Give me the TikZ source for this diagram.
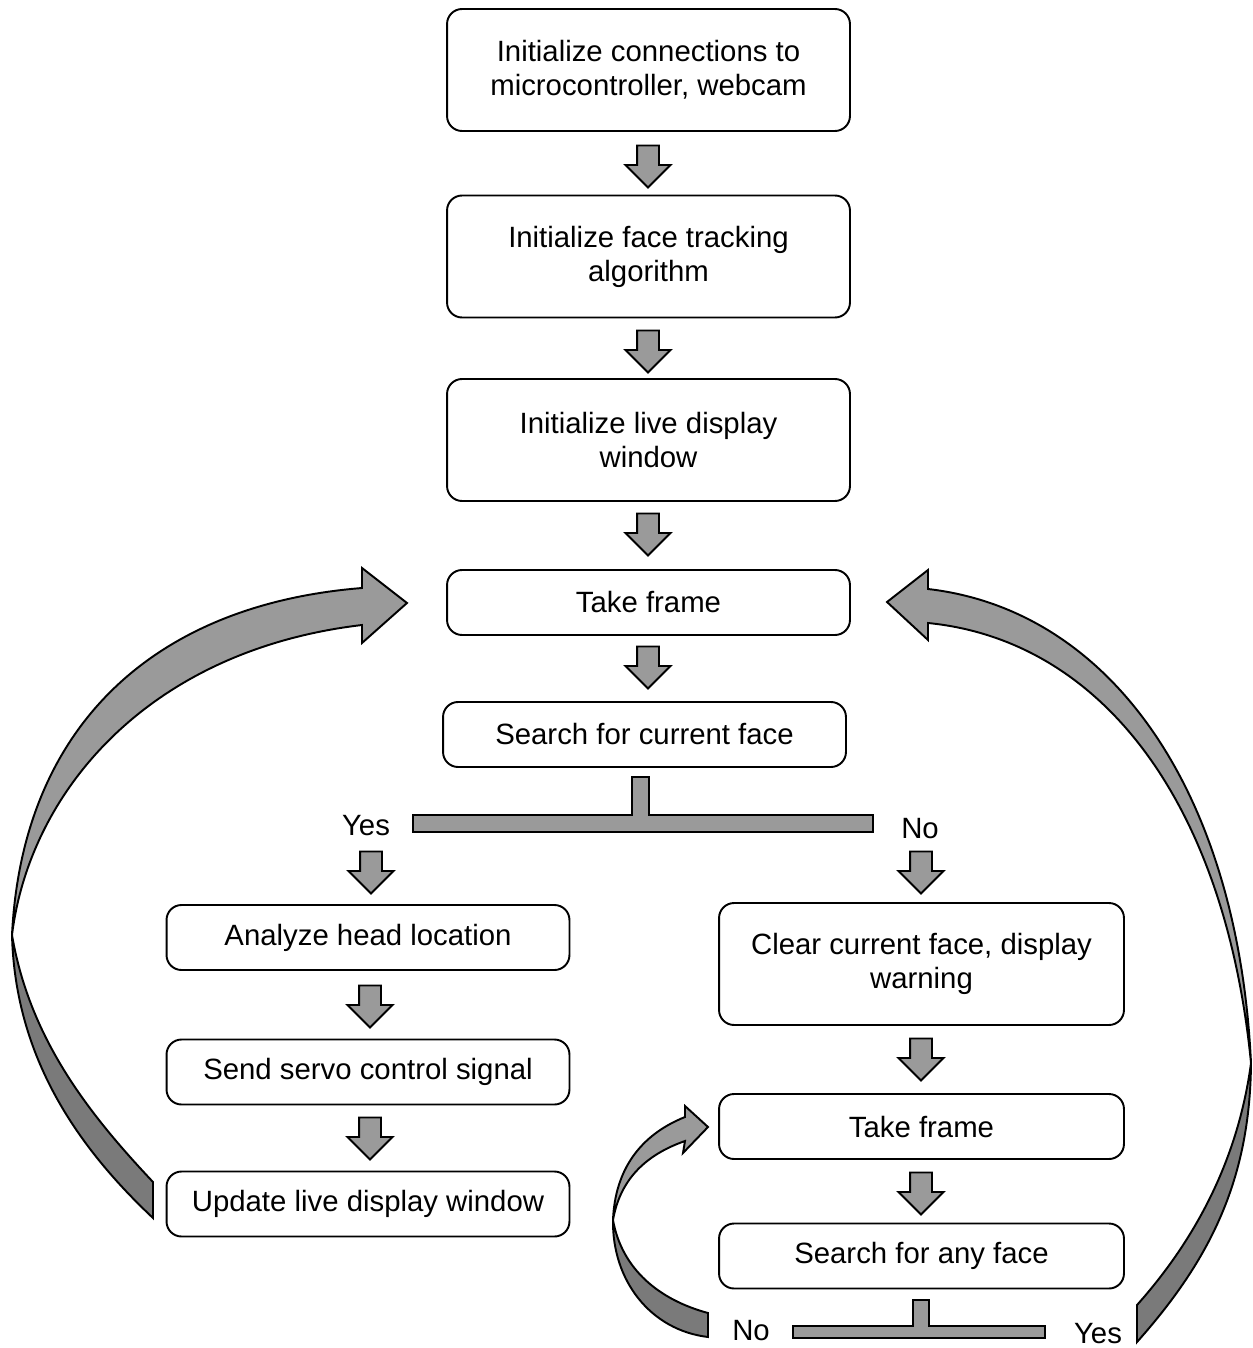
\documentclass[tikz,border=0pt]{standalone}
\usepackage{fontspec}
\setmainfont{Liberation Sans}
\usetikzlibrary{shapes.arrows,positioning}

\definecolor{fillgray}{HTML}{9A9A9A}
\definecolor{backgray}{HTML}{7A7A7A}

\begin{document}
\begin{tikzpicture}
    \tikzset{x=0.02cm,y=-0.02cm,every path/.style={line width=1.1pt},
      box/.style={draw,rounded corners=0.3cm,minimum width=8.06cm,align=center,font=\fontsize{16.7}{19.4}\selectfont},
      tallbox/.style={box,minimum height=2.44cm},
      flatbox/.style={box,minimum height=1.3cm},
      down/.style={single arrow,shape border rotate=270,draw,fill=fillgray,minimum width=0.88cm,minimum height=0.84cm,single arrow head extend=0.23cm,inner sep=0.2cm},
      ribbon/.style={draw,fill=fillgray},
      ribbonback/.style={draw,fill=backgray},
      answer/.style={font=\fontsize{16.7}{19.4}\selectfont}}
    \useasboundingbox (0,0) rectangle (1253,1348);
    % main column
    \node [tallbox] (init) at (648.5,70)  {Initialize connections to\\microcontroller, webcam};
    \node [tallbox] (track) at (648.5,256.5) {Initialize face tracking\\algorithm};
    \node [tallbox] (window) at (648.5,440) {Initialize live display\\window};
    \node [flatbox] (take) at (648.5,602.5) {Take frame};
    \node [flatbox] (search) at (644.5,734.5) {Search for current face};
    \node [down] (d1) at (648,161) {};
    \node [down] (d2) at (648,346) {};
    \node [down] (d3) at (648,529) {};
    \node [down] (d4) at (648,662) {};
    % first split
    \draw [fill=fillgray] (632,777) -- (649,777) -- (649,815) -- (873,815) -- (873,832) -- (413,832) -- (413,815) -- (632,815) -- cycle;
    \node [answer] (yes1) at (366,826) {Yes};
    \node [answer] (no1) at (920,829) {No};
    % face found
    \node [down] (d5) at (371,867) {};
    \node [flatbox] (head) at (368,937.5) {Analyze head location};
    \node [down] (d6) at (370,1001) {};
    \node [flatbox] (servo) at (368,1072) {Send servo control signal};
    \node [down] (d7) at (370,1133) {};
    \node [flatbox] (update) at (368,1204) {Update live display window};
    % face lost
    \node [down] (d8) at (921,867) {};
    \node [tallbox,minimum width=8.1cm] (clear) at (921.5,964) {Clear current face, display\\warning};
    \node [down] (d9) at (921,1054) {};
    \node [flatbox,minimum width=8.1cm] (take2) at (921.5,1126.5) {Take frame};
    \node [down] (d10) at (921,1188) {};
    \node [flatbox,minimum width=8.1cm] (any) at (921.5,1256) {Search for any face};
    % second split
    \draw [fill=fillgray] (913,1300) -- (929,1300) -- (929,1326) -- (1045,1326) -- (1045,1338) -- (793,1338) -- (793,1326) -- (913,1326) -- cycle;
    \node [answer] (no2) at (751,1331) {No};
    \node [answer] (yes2) at (1098,1334) {Yes};
    % loop back from update
    \draw [ribbon] (362,625) -- (362,643) -- (407,603) -- (362,568) -- (362,588)
      .. controls (150,605) and (22,730) .. (12,935)
      .. controls (30,790) and (150,650) .. (362,625) -- cycle;
    \draw [ribbonback] (12,935) .. controls (15,1050) and (70,1140) .. (153,1218) -- (153,1182)
      .. controls (90,1115) and (30,1040) .. (12,935) -- cycle;
    % loop back from any face
    \draw [ribbon] (928,623) -- (928,640) -- (887,602) -- (928,570) -- (928,589)
      .. controls (1110,610) and (1238,790) .. (1251,1063)
      .. controls (1225,800) and (1100,640) .. (928,623) -- cycle;
    \draw [ribbonback] (1251,1063) .. controls (1250,1180) and (1210,1260) .. (1137,1342) -- (1137,1305)
      .. controls (1195,1240) and (1238,1160) .. (1251,1063) -- cycle;
    % retry loop
    \draw [ribbon] (685,1141) -- (683,1153) -- (708,1127) -- (685,1106) -- (685,1117)
      .. controls (640,1135) and (615,1170) .. (613,1220)
      .. controls (620,1180) and (645,1155) .. (685,1141) -- cycle;
    \draw [ribbonback] (613,1220) .. controls (612,1280) and (650,1330) .. (708,1337) -- (708,1313)
      .. controls (660,1300) and (622,1270) .. (613,1220) -- cycle;
\end{tikzpicture}
\end{document}
